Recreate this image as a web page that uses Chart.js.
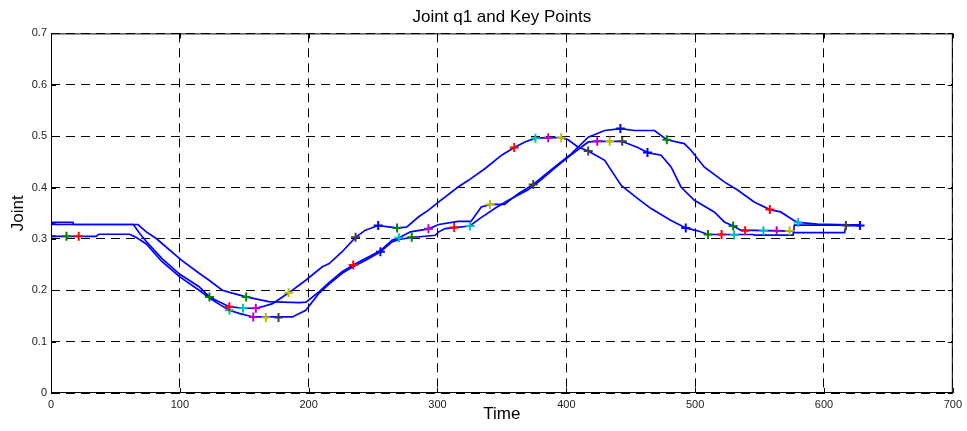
<!DOCTYPE html>
<html>
<head>
<meta charset="utf-8">
<script src="https://cdn.jsdelivr.net/npm/chart.js@4/dist/chart.umd.min.js"></script>
<style>
  html, body { margin: 0; padding: 0; background: #fff; }
  #wrap { width: 967px; height: 431px; }
</style>
</head>
<body>
<div id="wrap"><canvas id="chart"></canvas></div>
<script>
// three runs of joint q1 over time
const timeRun1 = [0, 17, 17.5, 64, 69, 74, 86, 100, 115, 123, 138.4, 149, 159, 164, 172, 184.5, 198, 210.6, 216, 226, 236.4, 244, 254, 262, 268.6, 276, 285.4, 293, 301, 316, 324, 337, 349.8, 359.6, 367.9, 376, 386, 396, 401.4, 409, 417, 429.8, 442.6, 455.5, 465.8, 481.3, 492.7, 502, 510, 545, 546, 576, 577, 628];
const jointRun1 = [0.332, 0.332, 0.328, 0.328, 0.31, 0.295, 0.262, 0.231, 0.207, 0.187, 0.168, 0.165, 0.165, 0.168, 0.174, 0.195, 0.22, 0.2456, 0.252, 0.275, 0.303, 0.317, 0.326, 0.3234, 0.3214, 0.323, 0.343, 0.356, 0.372, 0.401, 0.414, 0.437, 0.463, 0.478, 0.4887, 0.496, 0.497, 0.497, 0.493, 0.479, 0.471, 0.453, 0.404, 0.3785, 0.359, 0.336, 0.3214, 0.3157, 0.3085, 0.3085, 0.3072, 0.3072, 0.3266, 0.3266];

const timeRun2 = [0, 67.5, 74, 81.7, 101, 115, 123, 133, 140, 151.5, 169, 180, 192.6, 198, 208, 215.8, 226, 234.6, 246.7, 255.7, 264.7, 270, 279, 293, 301, 316, 326, 334, 341, 352, 362.7, 374.3, 391, 404, 417, 429.8, 442, 453, 468.4, 478, 491.6, 496.7, 507, 522.6, 532.9, 545.8, 558, 566.4, 576.7, 580, 594.7, 628];
const jointRun2 = [0.328, 0.328, 0.3137, 0.3007, 0.259, 0.233, 0.219, 0.2, 0.195, 0.187, 0.178, 0.177, 0.176, 0.177, 0.197, 0.215, 0.236, 0.249, 0.265, 0.277, 0.2975, 0.302, 0.3137, 0.3195, 0.328, 0.334, 0.334, 0.362, 0.367, 0.367, 0.388, 0.406, 0.44, 0.466, 0.498, 0.511, 0.5147, 0.511, 0.511, 0.493, 0.4855, 0.4725, 0.44, 0.411, 0.395, 0.372, 0.357, 0.3525, 0.336, 0.332, 0.3286, 0.3266];

const timeRun3 = [0, 35, 37, 61, 66, 74, 86, 100, 115, 123, 131, 138.5, 146, 157, 187.4, 197.8, 208, 215.8, 226, 234.6, 246.7, 255.7, 264.7, 270, 280, 298.3, 301, 306, 313, 325, 333, 345, 355, 370, 378, 391, 404, 417, 424, 443, 455.5, 463, 473.6, 481.3, 489, 499.4, 514.8, 522.6, 529.5, 535.4, 576, 577, 616, 617, 628];
const jointRun3 = [0.305, 0.305, 0.309, 0.309, 0.303, 0.29, 0.256, 0.226, 0.2, 0.185, 0.172, 0.161, 0.155, 0.148, 0.148, 0.161, 0.194, 0.212, 0.233, 0.246, 0.262, 0.275, 0.294, 0.299, 0.3027, 0.307, 0.3137, 0.32, 0.322, 0.325, 0.34, 0.36, 0.375, 0.395, 0.41, 0.438, 0.464, 0.4887, 0.49, 0.49, 0.478, 0.468, 0.4628, 0.44, 0.401, 0.375, 0.3525, 0.333, 0.325, 0.317, 0.315, 0.312, 0.312, 0.326, 0.3256];

// key points, grouped by marker colour [time, joint]
const keyBlue = [[0, 0], [0, 0.305], [0, 0.33], [254, 0.326], [255.7, 0.275], [442, 0.5147], [463, 0.468], [492.7, 0.3214], [628, 0.326]];
const keyGreen = [[12, 0.305], [123, 0.187], [151.5, 0.187], [268.6, 0.321], [280, 0.303], [478, 0.493], [510, 0.3085], [529.5, 0.325]];
const keyRed = [[21.5, 0.305], [138.4, 0.168], [234.6, 0.249], [313, 0.322], [359.6, 0.478], [520.5, 0.3085], [538.8, 0.316], [558, 0.357]];
const keyCyan = [[138.5, 0.161], [149, 0.165], [270, 0.302], [325.3, 0.325], [376, 0.496], [530.3, 0.3075], [553, 0.316], [580, 0.332]];
const keyMagenta = [[157, 0.148], [159, 0.165], [293, 0.3195], [386, 0.497], [424, 0.49], [563.3, 0.316]];
const keyYellow = [[166.8, 0.147], [184.5, 0.195], [340.8, 0.367], [396, 0.497], [433.7, 0.49], [573.3, 0.316]];
const keyGray = [[176.6, 0.147], [236.4, 0.303], [374.3, 0.406], [417, 0.471], [443.4, 0.49], [617, 0.326]];

const xTicks = [0, 100, 200, 300, 400, 500, 600, 700];
const yTicks = [0, 0.1, 0.2, 0.3, 0.4, 0.5, 0.6, 0.7];

const FONT = '"Liberation Sans", Arial, Helvetica, sans-serif';

function toPoints(xs, ys) {
    return xs.map((x, i) => ({ x: x, y: ys[i] }));
}

function lineSet(xs, ys) {
    return {
        data: toPoints(xs, ys),
        showLine: true,
        borderColor: '#0000ff',
        borderWidth: 1.7,
        pointRadius: 0,
        fill: false,
        tension: 0,
        order: 2,
    };
}

function keySet(points, color) {
    return {
        data: points.map(p => ({ x: p[0], y: p[1] })),
        showLine: false,
        pointStyle: 'cross',
        pointRadius: 4.5,
        pointBorderWidth: 2,
        borderColor: color,
        backgroundColor: color,
        order: 1,
    };
}

// matlab style box + inward ticks
const boxPlugin = {
    id: 'box',
    afterDraw(chart) {
        const { ctx, chartArea: a, scales } = chart;
        ctx.save();
        ctx.strokeStyle = '#000';
        ctx.lineWidth = 1;
        ctx.setLineDash([]);
        ctx.strokeRect(a.left + 0.5, a.top + 0.5, a.right - a.left - 1, a.bottom - a.top - 1);
        ctx.beginPath();
        xTicks.forEach(v => {
            const px = Math.round(scales.x.getPixelForValue(v)) + 0.5;
            ctx.moveTo(px, a.bottom); ctx.lineTo(px, a.bottom - 5);
            ctx.moveTo(px, a.top); ctx.lineTo(px, a.top + 5);
        });
        yTicks.forEach(v => {
            const py = Math.round(scales.y.getPixelForValue(v)) + 0.5;
            ctx.moveTo(a.left, py); ctx.lineTo(a.left + 5, py);
            ctx.moveTo(a.right, py); ctx.lineTo(a.right - 5, py);
        });
        ctx.stroke();
        ctx.restore();
    },
};

new Chart(document.getElementById('chart'), {
    type: 'scatter',
    data: {
        datasets: [
            lineSet(timeRun1, jointRun1),
            lineSet(timeRun2, jointRun2),
            lineSet(timeRun3, jointRun3),
            keySet(keyBlue, '#0000ff'),
            keySet(keyGreen, '#008000'),
            keySet(keyRed, '#ff0000'),
            keySet(keyCyan, '#00bfbf'),
            keySet(keyMagenta, '#bf00bf'),
            keySet(keyYellow, '#bfbf00'),
            keySet(keyGray, '#404040'),
        ],
    },
    options: {
        responsive: true,
        maintainAspectRatio: false,
        animation: false,
        layout: { padding: { left: 0, right: 11, top: 0, bottom: 0 } },
        plugins: {
            legend: { display: false },
            tooltip: { enabled: false },
            title: {
                display: true,
                text: 'Joint q1 and Key Points',
                fullSize: false,
                color: '#000',
                font: { family: FONT, size: 17, weight: 'normal' },
                padding: { top: 7, bottom: 6 },
            },
        },
        scales: {
            x: {
                type: 'linear',
                min: 0,
                max: 700,
                afterBuildTicks: axis => { axis.ticks = xTicks.map(v => ({ value: v })); },
                afterFit: axis => { axis.height = 38; },
                ticks: {
                    color: '#222',
                    font: { family: FONT, size: 11 },
                    padding: 5,
                    maxRotation: 0,
                },
                grid: { color: '#000', lineWidth: 1, drawTicks: false },
                border: { display: false, dash: [9, 6] },
                title: {
                    display: true,
                    text: 'Time',
                    color: '#000',
                    font: { family: FONT, size: 17 },
                    padding: { top: 0, bottom: 6 },
                },
            },
            y: {
                type: 'linear',
                min: 0,
                max: 0.7,
                afterBuildTicks: axis => { axis.ticks = yTicks.map(v => ({ value: v })); },
                afterFit: axis => { axis.width = 51; },
                ticks: {
                    color: '#222',
                    font: { family: FONT, size: 11 },
                    padding: 4,
                    callback: v => (v === 0 ? '0' : v.toFixed(1)),
                },
                grid: { color: '#000', lineWidth: 1, drawTicks: false },
                border: { display: false, dash: [9, 6] },
                title: {
                    display: true,
                    text: 'Joint',
                    color: '#000',
                    font: { family: FONT, size: 17 },
                    padding: { top: 8, bottom: 0 },
                },
            },
        },
    },
    plugins: [boxPlugin],
});
</script>
</body>
</html>
